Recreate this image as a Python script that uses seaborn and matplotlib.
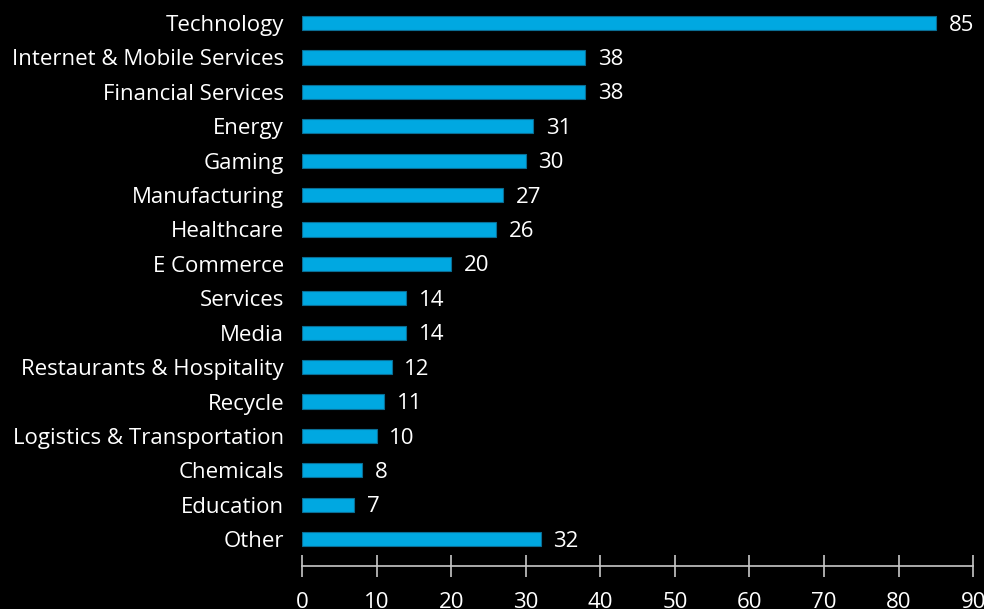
import numpy as np
import matplotlib.pyplot as plt
import seaborn as sns
import pandas as pd

categories = ['Technology', 'Internet & Mobile Services', 'Financial Services', 'Energy',
              'Gaming', 'Manufacturing', 'Healthcare', 'E Commerce', 'Services', 'Media',
              'Restaurants & Hospitality', 'Recycle', 'Logistics & Transportation',
              'Chemicals', 'Education', 'Other']
counts = [85, 38, 38, 31, 30, 27, 26, 20, 14, 14, 12, 11, 10, 8, 7, 32]
xticks = [0, 10, 20, 30, 40, 50, 60, 70, 80, 90]

sns.set_style('dark')
plt.rcParams['font.family'] = ['Open Sans', 'DejaVu Sans']

df = pd.DataFrame({'Industry': categories, 'Count': counts})

fig = plt.figure(figsize=(9.84, 6.09), dpi=100, facecolor='black')
ax = fig.add_axes([0.307, 0.0706, 0.682, 0.9294])
ax.set_facecolor('black')

sns.barplot(data=df, x='Count', y='Industry', orient='h', color='#00a8e1',
            saturation=1, width=0.41, edgecolor='#0a6e95', linewidth=0.8, ax=ax)

# value labels to the right of each bar
for i, v in enumerate(counts):
    ax.text(v + 1.7, i + 0.06, str(v), color='white', fontsize=16, va='center', ha='left')

ax.set_xlim(0, 90)
ax.set_ylim(15.78, -0.67)
ax.set_xticks(xticks)
ax.set_xlabel('')
ax.set_ylabel('')
ax.grid(False)
for s in ['top', 'right', 'left']:
    ax.spines[s].set_visible(False)
ax.spines['bottom'].set_color('#c8c8c8')
ax.spines['bottom'].set_linewidth(1.2)
ax.tick_params(axis='x', bottom=True, direction='inout', length=16, width=1.2,
               color='#c8c8c8', labelcolor='white', labelsize=16, pad=11)
ax.tick_params(axis='y', left=False, length=0, labelcolor='white', labelsize=16, pad=13)

fig.savefig('out.png', dpi=100, facecolor='black')
